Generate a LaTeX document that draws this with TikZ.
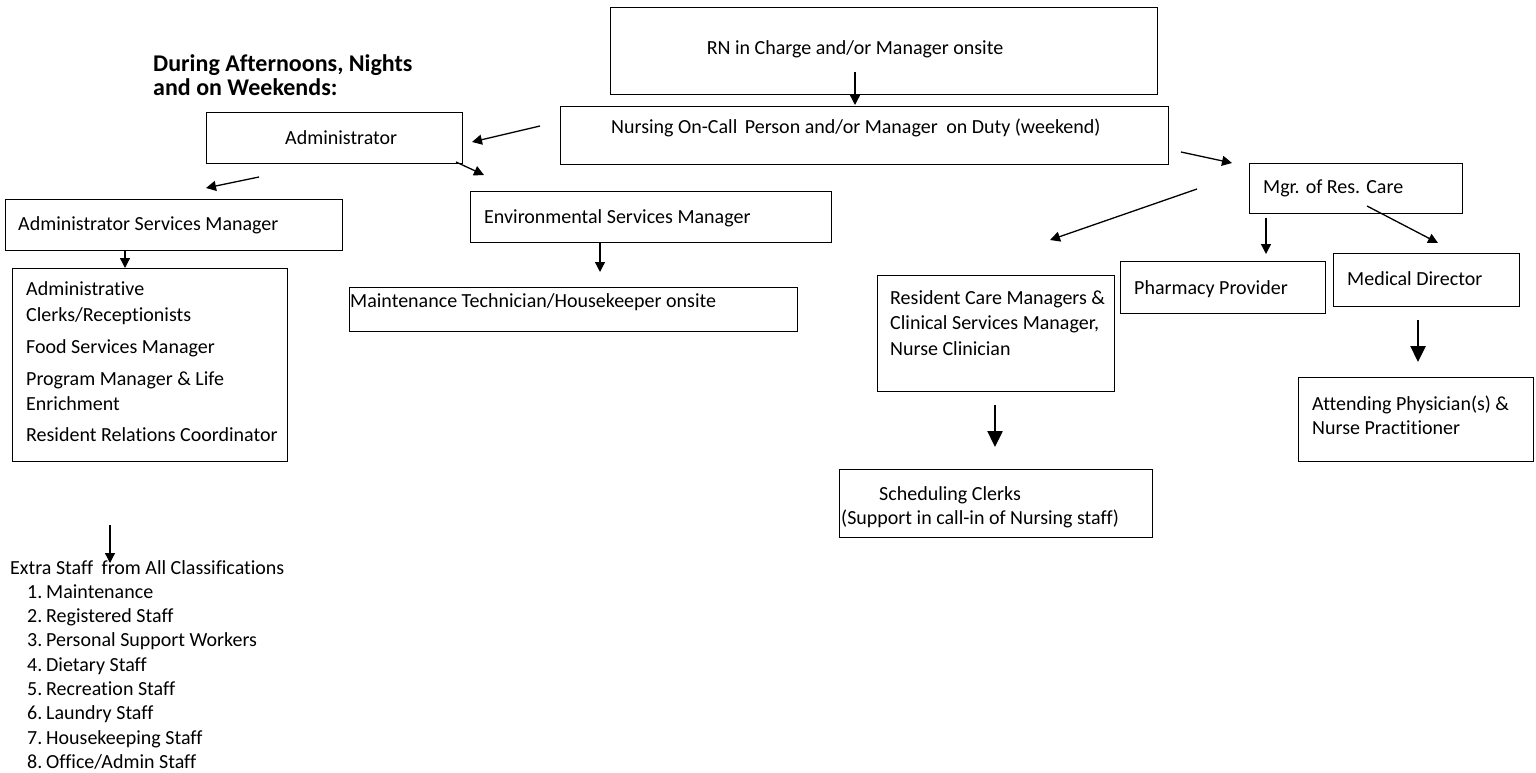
\documentclass[tikz,border=0pt]{standalone}
\usepackage{fontspec}
\setmainfont{Carlito}[Ligatures=NoCommon]
\usetikzlibrary{arrows.meta}

\begin{document}
\begin{tikzpicture}[x=1pt,y=-1pt,>={Triangle[length=10pt,width=10pt]},
  font=\fontsize{20}{24.5}\selectfont,
  box/.style={draw,line width=1.3pt,rectangle,inner sep=0pt,anchor=north west},
  txt/.style={inner sep=0pt,anchor=west,text height=12pt,text depth=0pt},
  headtxt/.style={inner sep=0pt,anchor=west,text height=15pt,text depth=0pt,font=\fontsize{24}{28}\selectfont\bfseries},
  thinarrow/.style={->,line width=1.3pt},
  thickarrow/.style={-{Triangle[length=16pt,width=15pt]},line width=2.5pt}]

  \useasboundingbox (0,0) rectangle (1536,773);

  % boxes
  \node[box,minimum width=547pt,minimum height=87pt] (rn) at (610,7) {};
  \node[box,minimum width=608pt,minimum height=58pt] (oncall) at (560,106) {};
  \node[box,minimum width=256pt,minimum height=51pt] (admin) at (206,112) {};
  \node[box,minimum width=337pt,minimum height=51pt] (asm) at (5,199) {};
  \node[box,minimum width=275pt,minimum height=193pt] (adminlist) at (12,268) {};
  \node[box,minimum width=361pt,minimum height=51pt] (env) at (470,191) {};
  \node[box,minimum width=448pt,minimum height=44pt] (maint) at (349,287) {};
  \node[box,minimum width=213pt,minimum height=50pt] (resmgr) at (1249,163) {};
  \node[box,minimum width=205pt,minimum height=52pt] (pharm) at (1120,261) {};
  \node[box,minimum width=186pt,minimum height=53pt] (meddir) at (1333,253) {};
  \node[box,minimum width=235pt,minimum height=84pt] (attend) at (1298,377) {};
  \node[box,minimum width=237pt,minimum height=116pt] (rcm) at (877,275) {};
  \node[box,minimum width=313pt,minimum height=68pt] (sched) at (839,469) {};

  % texts
  \node[headtxt] (head1) at (153,64) {During Afternoons, Nights};
  \node[headtxt] (head2) at (153,88) {and on Weekends:};
  \node[txt,anchor=center] (rntext) at (855,49) {RN in Charge and/or Manager onsite};
  \node[txt] (oncalltext) at (611,128) {Nursing On-Call\hspace{3pt} Person and/or Manager\hspace{4pt} on Duty (weekend)};
  \node[txt] (admintext) at (285,139) {Administrator};
  \node[txt] (asmtext) at (18,224) {Administrator Services Manager};
  \node[txt] (al1) at (26,289) {Administrative};
  \node[txt] (al2) at (26,315) {Clerks/Receptionists};
  \node[txt] (al3) at (26,347) {Food Services Manager};
  \node[txt] (al4) at (26,379) {Program Manager \& Life};
  \node[txt] (al5) at (26,404) {Enrichment};
  \node[txt] (al6) at (26,435) {Resident Relations Coordinator};
  \node[txt] (envtext) at (484,217) {Environmental Services Manager};
  \node[txt] (mainttext) at (350,301) {Maintenance Technician/Housekeeper onsite};
  \node[txt] (resmgrtext) at (1263,187) {Mgr. of Res. Care};
  \node[txt] (pharmtext) at (1134,288) {Pharmacy Provider};
  \node[txt] (meddirtext) at (1347,279) {Medical Director};
  \node[txt] (at1) at (1312,404) {Attending Physician(s) \&};
  \node[txt] (at2) at (1312,428) {Nurse Practitioner};
  \node[txt] (rc1) at (890,298) {Resident Care Managers \&};
  \node[txt] (rc2) at (890,323) {Clinical Services Manager,};
  \node[txt] (rc3) at (890,349) {Nurse Clinician};
  \node[txt] (sc1) at (879,494) {Scheduling Clerks};
  \node[txt] (sc2) at (841,518) {(Support in call-in of Nursing staff)};
  \node[txt] (extra) at (10,568) {Extra Staff\hspace{4pt} from All Classifications};
  \foreach \k/\staff in {1/Maintenance,2/Registered Staff,3/Personal Support Workers,
      4/Dietary Staff,5/Recreation Staff,6/Laundry Staff,7/Housekeeping Staff,8/{Office/Admin Staff}}
    \node[txt] (staff\k) at (27,568+24.3*\k) {\makebox[19pt][l]{\k.}\staff};

  % arrow ends
  \coordinate (rnout) at (855,72);
  \coordinate (oncallin) at (855,105);
  \coordinate (toadmins) at (540,126);
  \coordinate (toadmine) at (472,142);
  \coordinate (adminout) at (456,162);
  \coordinate (envin) at (484,175);
  \coordinate (toasms) at (259,177);
  \coordinate (toasme) at (206,188);
  \coordinate (asmout) at (125,250);
  \coordinate (listin) at (125,268);
  \coordinate (toextras) at (110,525);
  \coordinate (toextrae) at (110,563);
  \coordinate (envout) at (600,242);
  \coordinate (maintin) at (600,272);
  \coordinate (oncallout) at (1181,152);
  \coordinate (resmgrin) at (1232,163);
  \coordinate (torcms) at (1197,189);
  \coordinate (torcme) at (1050,240);
  \coordinate (topharms) at (1266,218);
  \coordinate (topharme) at (1266,254);
  \coordinate (tomeds) at (1367,206);
  \coordinate (tomede) at (1438,243);
  \coordinate (toattends) at (1418,320);
  \coordinate (toattende) at (1418,362);
  \coordinate (toscheds) at (995,405);
  \coordinate (toschede) at (995,447);

  \path[thinarrow]
  (rnout) edge (oncallin)
  (toadmins) edge (toadmine)
  (adminout) edge (envin)
  (toasms) edge (toasme)
  (asmout) edge (listin)
  (toextras) edge (toextrae)
  (envout) edge (maintin)
  (oncallout) edge (resmgrin)
  (torcms) edge (torcme)
  (topharms) edge (topharme)
  (tomeds) edge (tomede)
  ;
  \path[thickarrow]
  (toattends) edge (toattende)
  (toscheds) edge (toschede)
  ;
\end{tikzpicture}
\end{document}
